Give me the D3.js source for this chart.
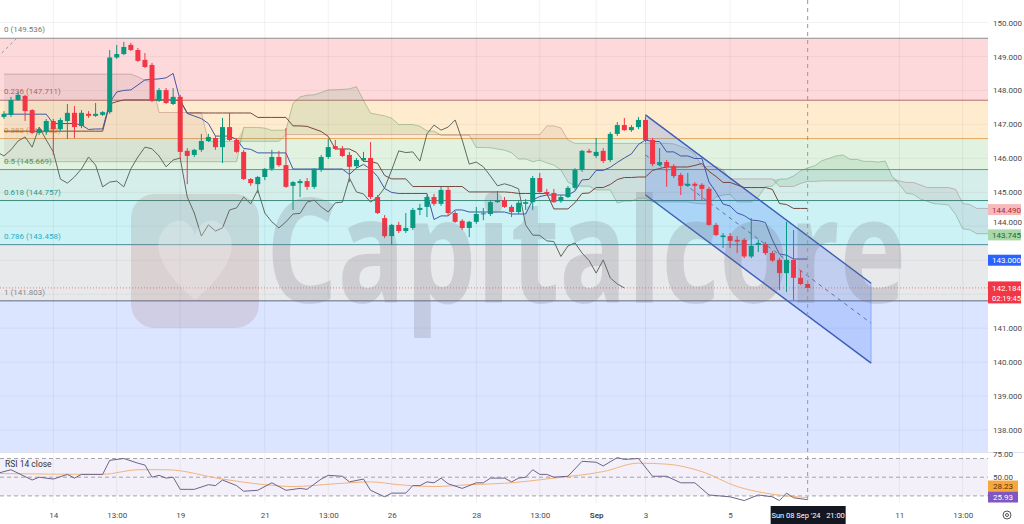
<!DOCTYPE html>
<html>
<head>
<meta charset="utf-8">
<script src="https://cdn.jsdelivr.net/npm/d3@7"></script>
<style>
  body { margin: 0; background: #fff; }
  svg text { font-family: Roboto, "Liberation Sans", sans-serif; }
</style>
</head>
<body>
<div id="chart"></div>
<script>
// ---- data: USDJPY 4H, candle index 0 = Wed 14 Aug 01:00 ----
var firstIndex = -7;
// [open, high, low, close]
var candles = [
  [147.22,147.39,147.16,147.31],[147.28,147.81,147.22,147.72],[147.72,147.95,147.69,147.87],[147.84,147.87,147.10,147.39],
  [147.42,147.45,146.72,146.75],[146.75,146.89,146.69,146.86],[146.78,147.16,146.69,147.10],[147.10,147.16,146.10,146.86],
  [146.86,147.19,146.81,147.13],[147.10,147.60,146.57,147.34],[147.34,147.54,146.60,146.92],[146.95,147.42,146.89,147.34],
  [147.31,147.39,147.19,147.25],[147.25,147.63,147.22,147.31],[147.28,147.39,147.25,147.36],[147.36,149.19,147.31,148.97],
  [148.97,149.34,148.93,149.07],[149.07,149.43,149.04,149.28],[149.34,149.40,149.16,149.19],[149.19,149.25,148.84,148.87],
  [148.90,149.10,148.66,148.69],[148.75,148.81,147.66,147.69],[147.69,148.07,147.66,148.01],[148.01,148.07,147.60,147.63],
  [147.60,148.07,147.57,147.81],[147.81,147.87,145.98,146.19],[146.22,146.30,145.24,146.07],[146.10,146.28,146.04,146.25],
  [146.25,146.72,146.19,146.51],[146.51,146.72,146.48,146.63],[146.60,146.66,146.25,146.33],[146.33,147.19,145.86,146.92],
  [146.92,147.34,146.51,146.54],[146.54,146.60,146.16,146.19],[146.19,146.25,145.36,145.39],[145.39,145.42,145.19,145.27],
  [145.24,145.48,144.98,145.45],[145.45,145.71,145.36,145.69],[145.69,146.25,145.63,146.04],[146.04,146.22,145.75,145.80],
  [145.80,146.89,145.13,145.16],[145.19,145.33,144.48,145.30],[145.27,145.39,144.86,145.33],[145.33,145.42,145.07,145.16],
  [145.16,145.71,145.10,145.69],[145.66,146.10,145.60,146.04],[146.04,146.57,145.98,146.33],[146.36,146.54,146.25,146.28],
  [146.28,146.36,146.04,146.07],[146.10,146.19,145.30,145.75],[145.77,146.01,145.71,145.95],[145.94,146.19,145.89,146.01],
  [146.01,146.48,144.80,144.86],[144.86,144.92,144.36,144.39],[144.24,144.33,143.65,143.71],[143.71,144.07,143.45,144.04],
  [144.04,144.13,143.80,143.86],[143.86,144.39,143.80,143.95],[143.95,144.54,143.89,144.48],[144.48,144.66,144.33,144.54],
  [144.57,144.92,144.27,144.86],[144.86,144.95,144.60,144.66],[144.66,145.16,144.60,145.07],[145.07,145.16,144.33,144.39],
  [144.39,144.45,144.10,144.13],[144.16,144.21,143.89,143.95],[143.95,144.16,143.68,144.13],[144.13,144.57,144.07,144.36],
  [144.36,144.54,144.18,144.38],[144.36,144.77,144.30,144.71],[144.71,145.04,144.69,144.77],[144.77,144.86,144.54,144.57],
  [144.57,144.63,144.27,144.42],[144.42,144.74,144.36,144.69],[144.66,144.80,144.48,144.71],[144.71,145.48,144.48,145.42],
  [145.42,145.57,144.98,145.01],[145.01,145.10,144.92,144.95],[144.98,145.10,144.69,144.71],[144.74,144.92,144.69,144.86],
  [144.86,145.19,144.83,145.13],[145.13,145.71,145.07,145.66],[145.66,146.25,145.60,146.22],[146.22,146.28,146.16,146.17],
  [146.07,146.60,146.01,146.19],[146.22,146.30,145.86,145.92],[145.95,146.78,145.89,146.72],[146.72,147.07,146.66,146.98],
  [146.98,147.19,146.81,146.83],[146.83,146.98,146.78,146.92],[146.92,147.22,146.86,147.13],[147.13,147.22,146.48,146.54],
  [146.54,146.60,145.77,145.83],[145.80,146.30,145.77,145.89],[145.89,145.95,145.16,145.75],[145.77,145.83,145.42,145.48],
  [145.51,145.57,144.92,145.19],[145.19,145.57,145.16,145.25],[145.25,145.30,144.77,145.19],[145.22,145.27,144.77,145.10],
  [145.10,145.16,144.01,144.04],[144.04,144.10,143.71,143.74],[143.68,143.80,143.36,143.73],[143.71,143.80,143.36,143.57],
  [143.60,143.71,143.21,143.55],[143.60,143.65,143.06,143.11],[143.11,144.24,143.06,143.42],[143.45,143.60,143.24,143.51],
  [143.48,143.54,143.15,143.21],[143.21,143.27,142.95,142.99],[143.01,143.07,142.12,142.62],[142.62,144.13,142.06,143.01],
  [143.01,143.89,141.83,142.48],[142.48,142.71,142.27,142.30],[142.30,142.39,142.06,142.184]
];

// Ichimoku lines, one value per candle, first value at index -7
var tenkan = [
  147.30,147.30,147.30,147.30,147.30,147.30,147.30,
  147.025,147.025,147.025,147.025,146.985,146.85,146.865,146.865,147.645,147.955,148.0,148.015,148.16,148.31,148.325,148.34,148.37,148.5,
  147.705,147.32,147.245,147.17,147.025,146.655,146.655,146.655,146.555,146.29,146.265,146.16,146.16,146.16,146.16,146.16,
  145.685,145.685,145.685,145.685,145.685,145.685,145.685,145.685,145.525,145.715,145.82,145.685,145.465,145.11,144.995,
  144.965,144.965,144.965,144.965,144.965,144.20,144.305,144.305,144.48,144.48,144.42,144.42,144.42,144.42,144.42,144.42,
  144.36,144.36,144.36,144.775,144.875,144.92,144.92,144.92,144.92,145.035,145.365,145.38,145.645,145.645,145.735,145.88,
  146.01,146.13,146.41,146.54,146.495,146.495,146.19,146.19,146.07,146.07,145.995,145.995,145.305,145.005,144.655,144.595,
  144.39,144.315,144.18,144.165,144.11,143.595,143.18,143.15,143.035,143.035,143.035
];
var kijun = [
  146.80,146.80,146.80,146.80,146.80,146.80,146.80,146.80,146.80,146.80,146.80,146.80,146.80,146.80,146.80,
  147.60,147.67,147.72,147.72,147.72,147.72,147.72,147.72,147.72,147.72,147.705,
  147.335,147.335,147.335,147.335,147.335,147.335,147.335,147.335,147.335,147.335,147.205,147.205,147.205,147.205,147.205,
  146.955,146.955,146.94,146.865,146.79,146.645,146.275,146.275,146.275,146.175,145.91,145.91,145.85,145.495,145.395,145.395,145.395,
  145.17,145.17,145.17,145.17,145.17,145.17,145.17,145.17,145.01,145.01,145.01,145.01,145.01,145.01,144.995,
  144.965,144.965,144.965,144.965,144.965,144.51,144.51,144.51,144.695,144.965,144.98,145.14,145.14,145.23,145.375,145.435,145.435,
  145.45,145.45,145.645,145.70,145.745,145.745,145.745,145.745,145.79,145.85,145.615,145.465,145.29,145.29,145.215,
  145.14,145.14,145.14,145.14,145.085,144.67,144.64,144.525,144.525,144.525
];
// leading spans, first value at index -7, last at 133 (26 candles ahead)
var spanA = [
  145.90,145.90,145.90,145.90,145.90,145.90,145.90,145.90,145.90,145.90,145.90,145.90,145.90,145.90,145.90,145.90,145.90,145.90,
  145.90,145.90,145.90,145.90,145.90,145.90,145.90,145.90,145.90,145.90,145.90,145.90,145.90,145.90,145.90,145.90,
  146.91,146.91,146.91,146.89,146.825,146.83,146.83,147.62,147.81,147.86,147.87,147.94,148.015,148.02,148.03,148.045,148.11,
  147.705,147.33,147.29,147.25,147.18,146.995,146.995,146.995,146.945,146.81,146.80,146.68,146.68,146.68,146.68,146.68,
  146.32,146.32,146.31,146.275,146.24,146.165,145.98,145.98,145.90,145.945,145.865,145.80,145.66,145.30,145.195,145.18,145.18,
  145.07,145.07,145.07,144.685,144.74,144.74,144.825,144.825,144.715,144.715,144.715,144.715,144.715,144.715,144.68,144.66,144.66,
  144.87,144.92,144.94,144.715,144.715,144.715,144.865,145.165,145.18,145.39,145.39,145.48,145.63,145.72,145.78,145.93,145.995,
  146.07,146.10,145.97,145.97,145.91,145.91,145.89,145.92,145.46,145.235,144.97,144.94,144.80,144.73,144.66,144.65,144.625,
  144.34,143.925,143.895,143.78,143.78,143.78
];
var spanB = [
  148.48,148.48,148.48,148.48,148.48,148.48,148.48,148.48,148.48,148.48,148.48,148.48,148.48,148.48,148.48,148.48,148.48,148.48,148.48,
  148.40,148.30,148.25,147.35,147.35,147.35,147.35,147.35,147.35,147.35,146.50,146.50,146.50,146.50,146.50,146.50,146.50,146.50,146.50,146.50,146.50,
  146.70,146.70,146.70,146.70,146.70,146.70,146.70,146.70,146.70,146.70,146.70,146.70,146.70,146.70,146.70,146.70,146.70,146.70,146.70,146.70,
  146.70,146.70,146.70,146.70,146.70,146.70,146.70,146.70,146.70,146.70,146.70,146.70,146.70,146.70,146.70,146.70,146.70,
  146.955,146.955,146.895,146.54,146.44,146.44,146.44,146.44,146.44,146.44,146.44,146.44,146.44,146.44,146.44,146.44,146.44,146.44,
  146.425,146.35,146.275,146.13,145.76,145.76,145.76,145.66,145.395,145.395,145.395,145.395,145.395,145.395,145.395,
  145.17,145.17,145.17,145.26,145.32,145.32,145.335,145.335,145.335,145.335,145.335,145.335,145.335,145.335,145.335,145.335,145.335,145.335,
  145.29,145.29,145.215,145.14,145.14,145.14,145.14,145.085,144.67,144.64,144.525,144.525,144.525
];

var fibRatios = ["0", "0.236", "0.382", "0.5", "0.618", "0.786", "1", "1.618"];
var fibPrices = [149.536, 147.711, 146.582, 145.669, 144.757, 143.458, 141.803, 137.024];
var fibFill = ["rgba(242,54,69,0.19)", "rgba(255,152,0,0.19)", "rgba(76,175,80,0.17)", "rgba(8,153,129,0.17)",
               "rgba(0,188,212,0.2)", "rgba(120,123,134,0.17)", "rgba(41,98,255,0.17)"];
var fibLine = ["#8f8f8f", "#b4706c", "#e3aa62", "#6e9b72", "#3f8b80", "#4c8f9a", "#5e6a82", "#5e6a82"];
var fibText = ["#777", "#b2675f", "#e2a13e", "#5c9a55", "#27998a", "#25afc6", "#8a8a8a", "#8a8a8a"];

// parallel channel anchors [index, price]
var channelTop = [[84, 147.28], [116, 142.32]];
var channelBottom = [[84, 144.92], [116, 139.97]];

// RSI(14) and its moving average, [index, value]
var rsiPoints = [[-8,54],[-6,58],[-3,47],[-2,50],[0,48],[2,53],[3,49],[4,53],[7,53],[8,68],[10,70],[12,65],[13,63],[14,50],
  [15,52],[16,49],[17,50],[18,37],[20,37],[22,42],[23,41],[24,47],[26,41],[27,35],[29,36],[31,44],[33,36],[35,38],[36,37],
  [38,48],[39,52],[41,51],[42,45],[44,48],[45,36],[47,29],[48,33],[50,33],[51,41],[52,41],[53,45],[54,44],[55,49],[56,43],
  [58,38],[60,44],[61,44],[62,49],[64,49],[65,45],[66,49],[67,50],[68,58],[69,53],[70,53],[71,50],[73,51],[75,67],[77,66],
  [78,62],[80,71],[81,69],[83,70],[85,51],[87,51],[89,44],[91,44],[93,31],[96,29],[98,25],[100,31],[102,29],[103,25],
  [104,33],[105,28],[107,25.93]];
var rsiMaPoints = [[-8,54],[7,53],[12,58],[16,58],[24,48],[30,42],[34,40],[40,43],[45,45],[49,42],[54,40],[59,42],[64,43.5],
  [71,49],[78,56],[83,65],[87,64],[92,56],[97,40],[101,33],[107,28.23]];

var timeTicks = [0, 9, 18, 30, 39, 48, 60, 69, 77, 84, 96, 120, 129];
var timeLabels = ["14", "13:00", "19", "21", "13:00", "26", "28", "13:00", "Sep", "3", "5", "11", "13:00"];
var priceTicks = [138, 139, 140, 141, 142, 143, 144, 145, 146, 147, 148, 149, 150];
var rsiTicks = [75, 50];
var rsiLevels = [70, 50, 30];
var crossIndex = 107, crossLabel = "Sun 08 Sep '24   21:00";
var lastPrice = 142.184, countdown = "02:19:45";
var tags = [
  {v: 144.490, bg: "#f6b9b9", fg: "#b42a35"},
  {v: 143.745, bg: "#a8d8aa", fg: "#1d6b25"},
  {v: 143.000, bg: "#2962ff", fg: "#ffffff"}
];

// ---- layout ----
var W = 1024, H = 524, paneW = 988, mainH = 452, rsiTop = 453, rsiBottom = 503;

var svg = d3.select("#chart").append("svg").attr("width", W).attr("height", H);
svg.append("rect").attr("width", W).attr("height", H).attr("fill", "#fff");

var x = d3.scaleLinear().domain([-7.56, 132.58]).range([0, paneW]);
var y = d3.scaleLinear().domain([138, 150]).range([430, 22.5]);
var yr = d3.scaleLinear().domain([30, 70]).range([495.9, 458.5]);

var defs = svg.append("defs");
defs.append("clipPath").attr("id", "mainClip").append("rect").attr("width", paneW).attr("height", mainH);
defs.append("clipPath").attr("id", "rsiClip").append("rect").attr("y", rsiTop).attr("width", paneW).attr("height", rsiBottom - rsiTop);
defs.append("clipPath").attr("id", "rsiAxisClip").append("rect").attr("x", paneW).attr("y", rsiTop - 2).attr("width", 40).attr("height", rsiBottom - rsiTop + 2);

var main = svg.append("g").attr("clip-path", "url(#mainClip)");

// grid
main.selectAll(".hg").data(priceTicks).enter().append("line")
  .attr("x1", 0).attr("x2", paneW).attr("y1", d => y(d)).attr("y2", d => y(d))
  .attr("stroke", "rgba(0,0,0,0.05)");

// fib bands
var bands = d3.range(fibPrices.length - 1);
main.selectAll(".band").data(bands).enter().append("rect")
  .attr("x", 0).attr("width", paneW)
  .attr("y", i => y(fibPrices[i])).attr("height", i => y(fibPrices[i + 1]) - y(fibPrices[i]))
  .attr("fill", i => fibFill[i]);

svg.append("g").selectAll(".vg").data(timeTicks).enter().append("line")
  .attr("x1", d => x(d)).attr("x2", d => x(d)).attr("y1", 0).attr("y2", rsiBottom)
  .attr("stroke", "rgba(0,0,0,0.055)");

main.selectAll(".fibline").data(fibPrices).enter().append("line")
  .attr("x1", 0).attr("x2", paneW).attr("y1", d => y(d)).attr("y2", d => y(d))
  .attr("stroke", (d, i) => fibLine[i]).attr("stroke-width", 1);

// fib trend line (dashed, running off the left edge)
main.append("line")
  .attr("x1", x(-5.2)).attr("y1", y(fibPrices[0])).attr("x2", x(-7.6)).attr("y2", y(149.04))
  .attr("stroke", "#9a9a9a").attr("stroke-dasharray", "3,3");

main.selectAll(".fibtxt").data(fibPrices.slice(0, 7)).enter().append("text")
  .attr("x", 4).attr("y", d => y(d) - 6)
  .attr("font-size", 8).attr("fill", (d, i) => fibText[i])
  .text((d, i) => fibRatios[i] + " (" + d.toFixed(3) + ")");

// cloud
var cloudIdx = d3.range(spanA.length);
var kOf = i => firstIndex + i;
main.append("path").datum(cloudIdx)
  .attr("fill", "rgba(140,100,100,0.10)")
  .attr("d", d3.area().x(i => x(kOf(i))).y0(i => y(spanA[i])).y1(i => y(Math.max(spanA[i], spanB[i]))));
main.append("path").datum(cloudIdx)
  .attr("fill", "rgba(80,160,95,0.15)")
  .attr("d", d3.area().x(i => x(kOf(i))).y0(i => y(spanB[i])).y1(i => y(Math.max(spanA[i], spanB[i]))));
main.append("path").datum(spanA)
  .attr("fill", "none").attr("stroke", "rgba(85,140,85,0.4)")
  .attr("d", d3.line().x((d, i) => x(kOf(i))).y(d => y(d)));
main.append("path").datum(spanB)
  .attr("fill", "none").attr("stroke", "rgba(150,85,85,0.35)")
  .attr("d", d3.line().x((d, i) => x(kOf(i))).y(d => y(d)));

// channel
var chPoly = channelTop.concat(channelBottom.slice().reverse());
main.append("path").datum(chPoly)
  .attr("fill", "rgba(41,98,255,0.2)").attr("stroke", "rgba(41,98,255,0.35)")
  .attr("d", d3.line().x(d => x(d[0])).y(d => y(d[1])).curve(d3.curveLinearClosed));
[channelTop, channelBottom].forEach(function (c) {
  main.append("path").datum(c).attr("fill", "none").attr("stroke", "#3f5fb8").attr("stroke-width", 1.4)
    .attr("d", d3.line().x(d => x(d[0])).y(d => y(d[1])));
});
var chMid = channelTop.map((d, i) => [d[0], (d[1] + channelBottom[i][1]) / 2]);
main.append("path").datum(chMid).attr("fill", "none").attr("stroke", "#5a72b8")
  .attr("stroke-dasharray", "4,4").attr("d", d3.line().x(d => x(d[0])).y(d => y(d[1])));

// lagging span: closes drawn 26 candles back
main.append("path").datum(candles)
  .attr("fill", "none").attr("stroke", "#5f6b60").attr("stroke-width", 1)
  .attr("d", d3.line().x((d, i) => x(kOf(i) - 26)).y(d => y(d[3])));
main.append("path").datum(kijun)
  .attr("fill", "none").attr("stroke", "#76463f").attr("stroke-width", 1)
  .attr("d", d3.line().x((d, i) => x(kOf(i))).y(d => y(d)));
main.append("path").datum(tenkan)
  .attr("fill", "none").attr("stroke", "#4157a6").attr("stroke-width", 1)
  .attr("d", d3.line().x((d, i) => x(kOf(i))).y(d => y(d)));

// candles
var up = "#089981", down = "#f23645";
var cg = main.selectAll(".candle").data(candles).enter().append("g");
cg.append("line")
  .attr("x1", (d, i) => x(kOf(i))).attr("x2", (d, i) => x(kOf(i)))
  .attr("y1", d => y(d[1])).attr("y2", d => y(d[2]))
  .attr("stroke", d => d[3] >= d[0] ? up : down).attr("stroke-width", 1);
cg.append("rect")
  .attr("x", (d, i) => x(kOf(i)) - 2.5).attr("width", 5)
  .attr("y", d => y(Math.max(d[0], d[3])))
  .attr("height", d => Math.max(1, Math.abs(y(d[0]) - y(d[3]))))
  .attr("fill", d => d[3] >= d[0] ? up : down);

// last price line
main.append("line").attr("x1", 0).attr("x2", paneW).attr("y1", y(lastPrice)).attr("y2", y(lastPrice))
  .attr("stroke", "#f23645").attr("stroke-opacity", 0.6).attr("stroke-dasharray", "1,2");

// watermark
var wm = svg.append("g");
wm.append("rect").attr("x", 131).attr("y", 194).attr("width", 128).attr("height", 134).attr("rx", 24)
  .attr("fill", "rgba(150,95,95,0.17)");
wm.append("path")
  .attr("d", "M195,300 C160,270 150,245 165,228 C178,214 192,222 195,236 C198,222 212,214 225,228 C240,245 230,270 195,300 Z")
  .attr("fill", "rgba(255,255,255,0.22)");
wm.append("text").attr("x", 266).attr("y", 303)
  .attr("font-size", 112).attr("font-weight", 700).style("font-family", "'Open Sans', sans-serif")
  .attr("transform", "translate(266,303) scale(1,1.3) translate(-266,-303)")
  .attr("textLength", 640).attr("lengthAdjust", "spacingAndGlyphs")
  .attr("fill", "rgba(110,110,118,0.21)").text("Capitalcore");

// separator
svg.append("line").attr("x1", 0).attr("x2", W).attr("y1", mainH + 0.5).attr("y2", mainH + 0.5).attr("stroke", "#e0e3eb");

// RSI pane
var rsiG = svg.append("g").attr("clip-path", "url(#rsiClip)");
rsiG.append("rect").attr("x", 0).attr("width", paneW).attr("y", yr(70)).attr("height", yr(30) - yr(70))
  .attr("fill", "rgba(126,87,194,0.09)");
rsiG.selectAll(".lvl").data(rsiLevels).enter().append("line")
  .attr("x1", 0).attr("x2", paneW).attr("y1", d => yr(d)).attr("y2", d => yr(d))
  .attr("stroke", "#8f8f99").attr("stroke-dasharray", "4,3").attr("stroke-width", 0.8);
rsiG.append("path").datum(rsiMaPoints).attr("fill", "none").attr("stroke", "#f2b47c").attr("stroke-width", 1)
  .attr("d", d3.line().x(d => x(d[0])).y(d => yr(d[1])).curve(d3.curveMonotoneX));
rsiG.append("path").datum(rsiPoints).attr("fill", "none").attr("stroke", "#6c6488").attr("stroke-width", 1)
  .attr("d", d3.line().x(d => x(d[0])).y(d => yr(d[1])));
svg.append("text").attr("x", 5).attr("y", 467).attr("font-size", 8.5).attr("fill", "#333").text("RSI 14 close");

// crosshair
svg.append("line").attr("x1", x(crossIndex)).attr("x2", x(crossIndex)).attr("y1", 0).attr("y2", rsiBottom)
  .attr("stroke", "#9598a1").attr("stroke-dasharray", "4,4");

// price axis (labels hidden where a value tag covers them)
var tagBoxes = tags.map(t => [y(t.v) - 6, y(t.v) + 6]).concat([[y(lastPrice) - 6.5, y(lastPrice) + 15.5]]);
var shownTicks = priceTicks.filter(p => !tagBoxes.some(b => y(p) > b[0] - 1 && y(p) < b[1] + 1));
var pa = svg.append("g").attr("transform", "translate(" + paneW + ",0)")
  .call(d3.axisRight(y).tickValues(shownTicks).tickFormat(d3.format(".3f")).tickSize(0).tickPadding(5));
pa.select(".domain").remove();
pa.selectAll("text").attr("font-size", 8).attr("fill", "#4a4a4a").style("font-family", "Roboto, sans-serif")
  .attr("dy", p => (tagBoxes.some(b => y(p) > b[0] - 9 && y(p) < b[0]) ? "-0.2em" : "0.32em"));

tags.forEach(function (t) {
  svg.append("rect").attr("x", paneW).attr("y", y(t.v) - 5.5).attr("width", 33).attr("height", 11).attr("fill", t.bg);
  svg.append("text").attr("x", paneW + 4).attr("y", y(t.v) + 3).attr("font-size", 8).attr("fill", t.fg).text(t.v.toFixed(3));
});
svg.append("rect").attr("x", paneW).attr("y", y(lastPrice) - 6.5).attr("width", 33).attr("height", 22).attr("fill", "#f23645");
svg.append("text").attr("x", paneW + 4).attr("y", y(lastPrice) + 3).attr("font-size", 8).attr("fill", "#fff").text(lastPrice.toFixed(3));
svg.append("text").attr("x", paneW + 4).attr("y", y(lastPrice) + 13).attr("font-size", 7.5).attr("fill", "#fff").text(countdown);

// RSI axis
var raWrap = svg.append("g").attr("clip-path", "url(#rsiAxisClip)");
var ra = raWrap.append("g").attr("transform", "translate(" + paneW + ",0)")
  .call(d3.axisRight(yr).tickValues(rsiTicks).tickFormat(d3.format(".2f")).tickSize(0).tickPadding(5));
ra.select(".domain").remove();
ra.selectAll("text").attr("font-size", 8).attr("fill", "#4a4a4a").style("font-family", "Roboto, sans-serif");
var rsiLast = rsiPoints[rsiPoints.length - 1][1], maLast = rsiMaPoints[rsiMaPoints.length - 1][1];
var purpleY = Math.min(yr(rsiLast), rsiBottom - 6), orangeY = Math.min(yr(maLast), purpleY - 11);
svg.append("rect").attr("x", paneW).attr("y", orangeY - 5.5).attr("width", 30).attr("height", 11).attr("fill", "#f6a73f");
svg.append("text").attr("x", paneW + 5).attr("y", orangeY + 3).attr("font-size", 8).attr("fill", "#5a2e00").text(maLast.toFixed(2));
svg.append("rect").attr("x", paneW).attr("y", purpleY - 5.5).attr("width", 30).attr("height", 11).attr("fill", "#7e57c2");
svg.append("text").attr("x", paneW + 5).attr("y", purpleY + 3).attr("font-size", 8).attr("fill", "#fff").text(rsiLast.toFixed(2));

// time axis
var ta = svg.append("g").attr("transform", "translate(0," + rsiBottom + ")")
  .call(d3.axisBottom(x).tickValues(timeTicks).tickFormat((d, i) => timeLabels[i]).tickSize(0).tickPadding(9));
ta.select(".domain").remove();
ta.selectAll("text").attr("font-size", 8).attr("fill", "#4a4a4a").style("font-family", "Roboto, sans-serif")
  .attr("font-weight", (d, i) => timeLabels[i] === "Sep" ? 700 : 400);

var cx = x(crossIndex);
svg.append("rect").attr("x", cx - 37).attr("y", 506).attr("width", 75).attr("height", 18).attr("fill", "#131722");
svg.append("text").attr("x", cx + 0.5).attr("y", 518).attr("text-anchor", "middle").attr("font-size", 7.5)
  .attr("fill", "#fff").attr("xml:space", "preserve").text(crossLabel);

// settings gear
svg.append("circle").attr("cx", 1007).attr("cy", 515).attr("r", 4).attr("fill", "none").attr("stroke", "#555").attr("stroke-width", 1);
svg.append("circle").attr("cx", 1007).attr("cy", 515).attr("r", 1.5).attr("fill", "none").attr("stroke", "#555").attr("stroke-width", 1);
</script>
</body>
</html>
